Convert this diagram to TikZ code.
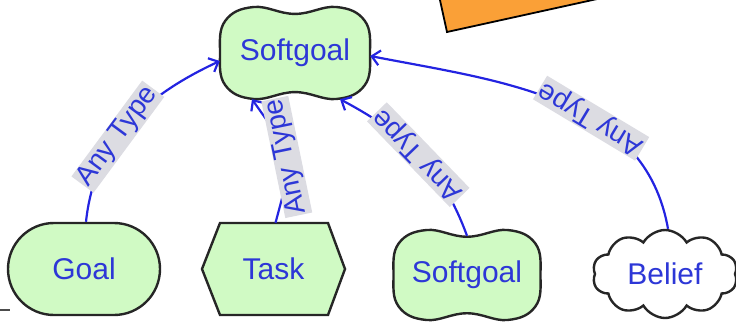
\documentclass[tikz,border=0pt]{standalone}
\usepackage{fontspec}
\setmainfont{Liberation Sans}
\usetikzlibrary{shapes.symbols,shapes.misc,arrows.meta}
\definecolor{sgfill}{RGB}{208,250,196}
\definecolor{txtblue}{RGB}{45,55,215}
\definecolor{lineblue}{RGB}{35,35,225}
\definecolor{lblgray}{RGB}{220,220,226}
\definecolor{boxorange}{RGB}{250,160,55}
\tikzset{
  shapeline/.style={draw=black!85, line width=2.4pt},
  nodetext/.style={text=txtblue, font=\fontsize{30}{32}\selectfont, inner sep=0pt},
  conn/.style={draw=lineblue, line width=2.2pt, -{Straight Barb[length=8pt,width=15pt]}},
  lbl/.style={fill=lblgray, text=txtblue, font=\fontsize{28}{30}\selectfont, inner sep=1.2pt, sloped, allow upside down},
}
\newcommand\sgblob[3]{%
  \draw[shapeline, fill=sgfill, shift={(#1)}] plot[smooth cycle, tension=0.7] coordinates {
    (-#2,0) (-0.93*#2,0.7*#3) (-0.55*#2,#3) (0,0.85*#3) (0.55*#2,#3) (0.93*#2,0.7*#3)
    (#2,0) (0.93*#2,-0.7*#3) (0.55*#2,-#3) (0,-0.85*#3) (-0.55*#2,-#3) (-0.93*#2,-0.7*#3)};
}
\begin{document}
\begin{tikzpicture}[x=1pt,y=1pt]
\useasboundingbox (0,0) rectangle (736,325);
\clip (0,0) rectangle (736,325);
% partial orange box at the top
\draw[fill=boxorange, draw=black, line width=1.8pt, rotate around={12.4:(447,293)}] (447,293) rectangle ++(400,120);
% small fragment at the bottom left
\draw[black!70, line width=1.2pt] (0,15) -- (10,15);
% shapes
\coordinate (csg) at (295,272);
\coordinate (csg2) at (467,50);
\coordinate (ctask) at (273.5,56);
\sgblob{csg}{75}{46}
\sgblob{csg2}{73.5}{45}
\draw[shapeline, fill=sgfill, shift={(ctask)}] (-71.5,0) -- (-53.5,46) -- (54.5,46) -- (71.5,0) -- (54.5,-46) -- (-53.5,-46) -- cycle;
% nodes
\node[nodetext, minimum width=150pt, minimum height=92pt] (sg) at (csg) {Softgoal};
\node[nodetext, minimum width=147pt, minimum height=90pt] (sg2) at (csg2) {Softgoal};
\node[nodetext, minimum width=143pt, minimum height=92pt] (task) at (ctask) {Task};
\node[nodetext, rounded rectangle, shapeline, fill=sgfill, minimum width=152pt, minimum height=92pt] (goal) at (84,56) {Goal};
\node[nodetext, cloud, shapeline, fill=white, cloud puffs=10, cloud puff arc=120, aspect=1.6, minimum width=145pt, minimum height=88pt] (belief) at (665,51) {Belief};
% connectors
\draw[conn] ([xshift=2pt]goal.north) to[out=84,in=205] node[lbl,pos=0.42]{Any Type} ([yshift=-8pt]sg.west);
\draw[conn] ([xshift=2pt]task.north) to[out=75,in=-55,looseness=1.5] node[lbl]{Any Type} ([xshift=-43pt]sg.south);
\draw[conn] ([yshift=-6pt]sg2.north) to[out=110,in=-28] node[lbl]{Any Type} ([xshift=45pt]sg.south);
\draw[conn] ([xshift=3pt]belief.north) to[out=100,in=-11] node[lbl,pos=0.4]{Any Type} ([yshift=-3pt]sg.east);
\end{tikzpicture}
\end{document}
